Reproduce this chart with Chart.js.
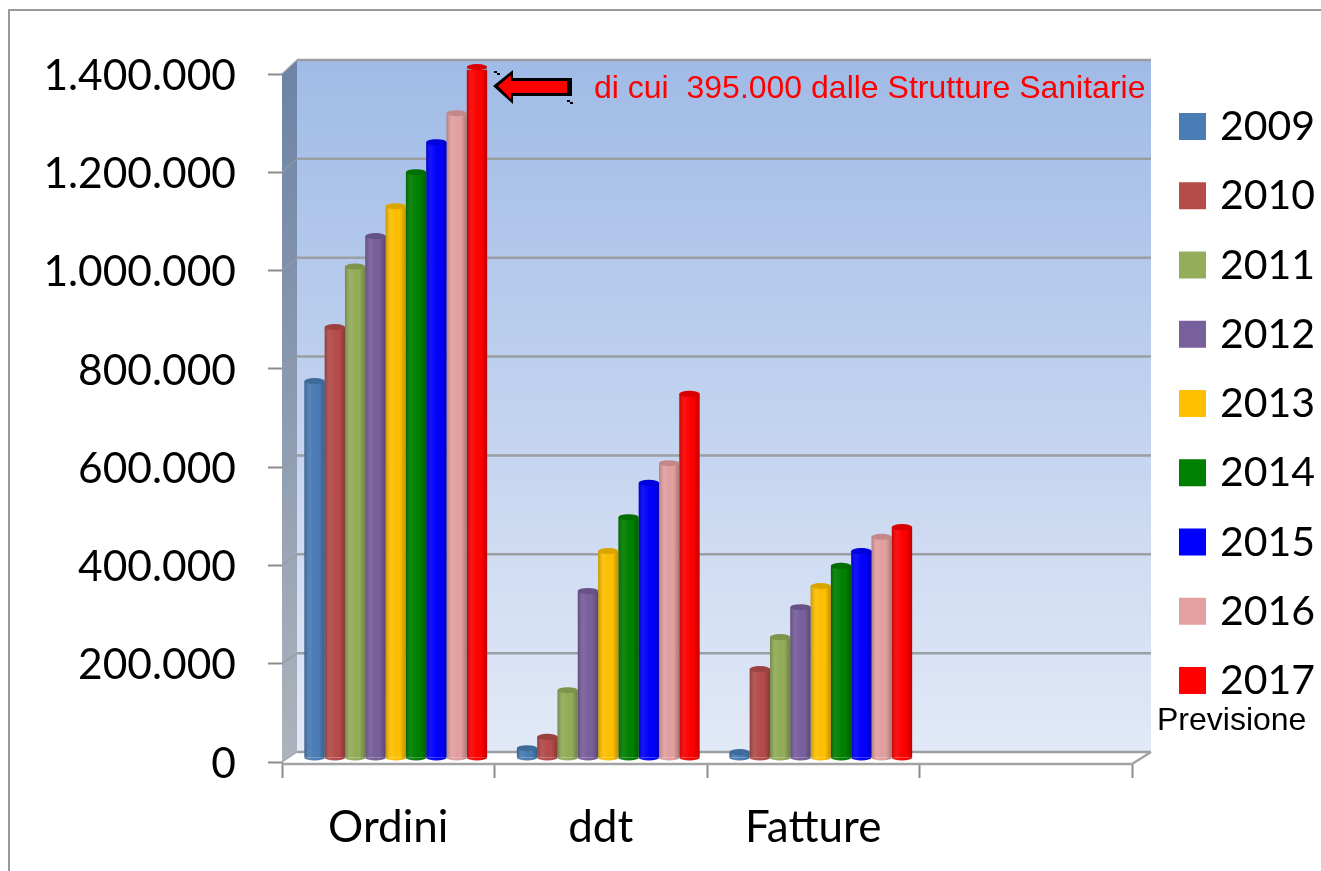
<!DOCTYPE html>
<html>
<head>
<meta charset="utf-8">
<title>Ordini ddt Fatture</title>
<script src="https://cdn.jsdelivr.net/npm/chart.js@4"></script>
<style>
    html, body { margin: 0; padding: 0; background: #fff; overflow: hidden; }
    canvas { display: block; }
</style>
</head>
<body>
<canvas id="chart" width="1321" height="871"></canvas>
<script>
const categories = ['Ordini', 'ddt', 'Fatture', ''];
const years = ['2009', '2010', '2011', '2012', '2013', '2014', '2015', '2016', '2017'];
const yTickLabels = ['0', '200.000', '400.000', '600.000', '800.000', '1.000.000', '1.200.000', '1.400.000'];

const values2009 = [767000, 20000, 12000, null];
const values2010 = [877000, 43000, 181000, null];
const values2011 = [1000000, 138000, 246000, null];
const values2012 = [1062000, 340000, 307000, null];
const values2013 = [1123000, 421000, 350000, null];
const values2014 = [1192000, 490000, 391000, null];
const values2015 = [1253000, 560000, 421000, null];
const values2016 = [1312000, 600000, 450000, null];
const values2017 = [1406000, 741000, 470000, null];

const seriesValues = [values2009, values2010, values2011, values2012, values2013, values2014, values2015, values2016, values2017];
const seriesColors = ['#4a7db5', '#b54c4a', '#93ad59', '#78609c', '#ffc000', '#008000', '#0000ff', '#e3a0a0', '#ff0000'];

const mainFont = 'Lato, sans-serif';
const noteFont = '"Liberation Sans", Arial, sans-serif';

// bars stand in the middle of the 3D floor
const barShiftX = 7.5;
const barShiftY = -4;

const frame3d = {
    id: 'frame3d',
    beforeDatasetsDraw(chart) {
        const { ctx, scales } = chart;
        const left = scales.x.left;
        const right = scales.x.right;
        const top = scales.y.getPixelForValue(1400000);
        const bottom = scales.y.getPixelForValue(0);
        const backLeft = left + 15;
        const backRight = right + 19;
        const backTop = top - 14;
        const backBottom = bottom - 10;
        const backY = py => backTop + (py - top) * (backBottom - backTop) / (bottom - top);

        ctx.save();

        // outer border
        ctx.strokeStyle = '#9a9a9a';
        ctx.lineWidth = 2;
        ctx.beginPath();
        ctx.moveTo(9, 871);
        ctx.lineTo(9, 10);
        ctx.lineTo(1321, 10);
        ctx.stroke();

        // back wall
        const wall = ctx.createLinearGradient(0, backTop, 0, backBottom);
        wall.addColorStop(0, '#a0bbe6');
        wall.addColorStop(1, '#e2e9f7');
        ctx.fillStyle = wall;
        ctx.fillRect(backLeft, backTop, backRight - backLeft, backBottom - backTop);

        // left wall
        const side = ctx.createLinearGradient(0, backTop, 0, bottom);
        side.addColorStop(0, '#6c83a6');
        side.addColorStop(1, '#aeb3bc');
        ctx.fillStyle = side;
        ctx.beginPath();
        ctx.moveTo(left, top);
        ctx.lineTo(backLeft, backTop);
        ctx.lineTo(backLeft, backBottom);
        ctx.lineTo(left, bottom);
        ctx.closePath();
        ctx.fill();

        // floor
        ctx.fillStyle = '#ffffff';
        ctx.beginPath();
        ctx.moveTo(left, bottom + 2);
        ctx.lineTo(backLeft, backBottom);
        ctx.lineTo(backRight, backBottom);
        ctx.lineTo(right, bottom + 2);
        ctx.closePath();
        ctx.fill();

        // grid lines on the back wall and the left wall
        scales.y.ticks.forEach(tick => {
            const py = scales.y.getPixelForValue(tick.value);
            ctx.strokeStyle = '#9b9ea3';
            ctx.lineWidth = 2.5;
            ctx.beginPath();
            ctx.moveTo(backLeft, backY(py));
            ctx.lineTo(backRight, backY(py));
            ctx.stroke();
            ctx.strokeStyle = 'rgba(150,155,165,0.8)';
            ctx.lineWidth = 1.5;
            ctx.beginPath();
            ctx.moveTo(left, py);
            ctx.lineTo(backLeft, backY(py));
            ctx.stroke();
        });

        // front edge of the floor
        ctx.strokeStyle = '#a3a3a3';
        ctx.lineWidth = 2.5;
        ctx.beginPath();
        ctx.moveTo(left, bottom + 2);
        ctx.lineTo(right, bottom + 2);
        ctx.lineTo(backRight, backBottom);
        ctx.stroke();
        ctx.restore();

        ctx.save();
        ctx.translate(barShiftX, barShiftY);
    },
    afterDatasetsDraw(chart) {
        const { ctx } = chart;
        chart.data.datasets.forEach((dataset, i) => {
            chart.getDatasetMeta(i).data.forEach((bar, index) => {
                if (dataset.data[index] === null) return;
                const half = bar.width / 2;
                const shade = ctx.createLinearGradient(bar.x - half, 0, bar.x + half, 0);
                shade.addColorStop(0, 'rgba(0,0,0,0.22)');
                shade.addColorStop(0.3, 'rgba(255,255,255,0.06)');
                shade.addColorStop(0.7, 'rgba(0,0,0,0)');
                shade.addColorStop(1, 'rgba(0,0,0,0.25)');

                // round foot
                ctx.fillStyle = dataset.backgroundColor;
                ctx.beginPath();
                ctx.ellipse(bar.x, bar.base, half, 3, 0, 0, Math.PI);
                ctx.fill();
                ctx.fillStyle = shade;
                ctx.beginPath();
                ctx.ellipse(bar.x, bar.base, half, 3, 0, 0, Math.PI);
                ctx.fill();
                ctx.fillRect(bar.x - half, bar.y, bar.width, bar.base - bar.y);

                // round top
                ctx.fillStyle = dataset.backgroundColor;
                ctx.beginPath();
                ctx.ellipse(bar.x, bar.y, half, 3, 0, 0, Math.PI * 2);
                ctx.fill();
                ctx.fillStyle = 'rgba(0,0,0,0.14)';
                ctx.beginPath();
                ctx.ellipse(bar.x, bar.y, half, 3, 0, 0, Math.PI * 2);
                ctx.fill();
            });
        });
        ctx.restore();
    },
    afterDraw(chart) {
        const { ctx } = chart;
        ctx.save();

        // legend
        ctx.textBaseline = 'middle';
        ctx.textAlign = 'left';
        years.forEach((year, i) => {
            const y = 126 + i * 69.25;
            ctx.fillStyle = seriesColors[i];
            ctx.fillRect(1179, y - 13, 27, 27);
            ctx.fillStyle = '#000';
            ctx.font = '41px ' + mainFont;
            ctx.fillText(year, 1220, y + 1);
        });

        ctx.font = '32px ' + noteFont;
        ctx.fillStyle = '#000';
        ctx.fillText('Previsione', 1157, 721);

        // note on the 2017 orders
        ctx.fillStyle = '#ff0000';
        ctx.fillText('di cui  395.000 dalle Strutture Sanitarie', 594, 89);

        // arrow with its heavy black edge and selection marks
        ctx.fillStyle = '#000';
        ctx.beginPath();
        ctx.moveTo(493, 86);
        ctx.lineTo(513, 70);
        ctx.lineTo(513, 78);
        ctx.lineTo(572, 78);
        ctx.lineTo(572, 96);
        ctx.lineTo(513, 96);
        ctx.lineTo(513, 104);
        ctx.closePath();
        ctx.fill();
        ctx.fillRect(494, 71, 3, 2);
        ctx.fillRect(497, 73, 3, 2);
        ctx.fillRect(567, 100, 3, 2);
        ctx.fillRect(570, 102, 3, 2);

        ctx.fillStyle = '#ff0000';
        ctx.beginPath();
        ctx.moveTo(498, 86);
        ctx.lineTo(511, 75);
        ctx.lineTo(511, 81);
        ctx.lineTo(567, 81);
        ctx.lineTo(567, 93);
        ctx.lineTo(511, 93);
        ctx.lineTo(511, 99);
        ctx.closePath();
        ctx.fill();
        ctx.restore();
    }
};

new Chart(document.getElementById('chart').getContext('2d'), {
    type: 'bar',
    data: {
        labels: categories,
        datasets: years.map((year, i) => ({
            label: year,
            data: seriesValues[i],
            backgroundColor: seriesColors[i],
            borderWidth: 0,
            categoryPercentage: 0.86,
            barPercentage: 1
        }))
    },
    plugins: [frame3d],
    options: {
        responsive: false,
        animation: false,
        layout: { padding: { top: 74, right: 189, bottom: 0, left: 0 } },
        plugins: {
            legend: { display: false },
            title: { display: false }
        },
        scales: {
            x: {
                afterFit: scale => { scale.height = 109; },
                border: { display: false },
                grid: { drawOnChartArea: false, tickLength: 16, tickColor: '#8c8c8c', tickWidth: 2 },
                ticks: { color: '#000', padding: 23, maxRotation: 0, font: { family: mainFont, size: 44 } }
            },
            y: {
                min: 0,
                max: 1400000,
                afterFit: scale => { scale.width = 282; },
                border: { display: false },
                grid: { drawOnChartArea: false, tickLength: 14, tickColor: '#8c8c8c', tickWidth: 2 },
                ticks: {
                    stepSize: 200000,
                    color: '#000',
                    padding: 32,
                    labelOffset: 2,
                    font: { family: mainFont, size: 42.5 },
                    callback: (value, index) => yTickLabels[index]
                }
            }
        }
    }
});
</script>
</body>
</html>
